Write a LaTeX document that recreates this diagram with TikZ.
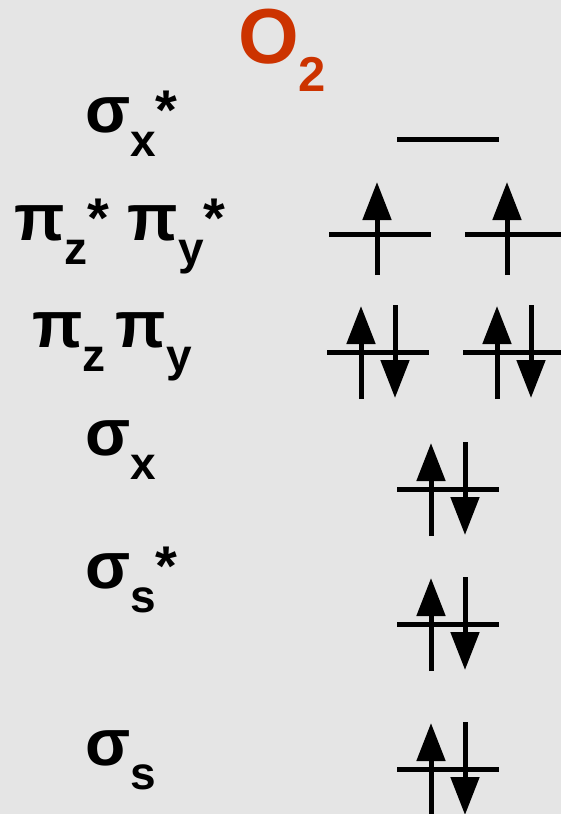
\documentclass[tikz,border=0pt]{standalone}
\usepackage{fontspec}
\setmainfont{Liberation Sans}
\usetikzlibrary{arrows.meta}

\definecolor{marble}{RGB}{229,229,229}
\definecolor{oxred}{RGB}{204,51,0}

\newcommand\orbfont{\fontsize{66}{70}\selectfont\bfseries}
\newcommand\subfont{\fontsize{46}{50}\selectfont\bfseries}
\newcommand\lo[1]{\raisebox{-24pt}{\subfont #1}}
\newcommand\hi{\raisebox{3pt}{\fontsize{56}{60}\selectfont\bfseries *}}

\begin{document}
\begin{tikzpicture}[
        x=1pt, y=-1pt,
        lbl/.style={anchor=base west, inner sep=0pt, font=\orbfont},
        lvl/.style={line width=5pt},
        spin/.style={line width=5pt, -{Triangle[length=38pt,width=28pt]}},
    ]

    %% ===== Background =====
    \fill[marble] (0,0) rectangle (561,814);
    \clip (0,0) rectangle (561,814);

    %% ===== Title =====
    \node[anchor=base west, inner sep=0pt, text=oxred, font=\fontsize{78}{80}\selectfont\bfseries] (title) at (238,63) {O\raisebox{-28pt}{\fontsize{49}{50}\selectfont 2}};

    %% ===== Orbital labels =====
    \node[lbl] (sxs) at (85,132) {σ\lo{x}\hi};
    \node[lbl] (pizys) at (14,240) {π\lo{z}\hi\hspace{18pt}π\lo{y}\hi};
    \node[lbl] (pizy) at (32,347) {π\lo{z}\hspace{10pt}π\lo{y}};
    \node[lbl] (sx) at (85,455) {σ\lo{x}};
    \node[lbl] (sss) at (85,588) {σ\lo{s}\hi};
    \node[lbl] (ss) at (85,765) {σ\lo{s}};

    %% ===== Energy levels =====
    \foreach \n/\x/\y in {sxs/448/139, pzs/380/234, pys/516/234, pz/378/352, py/514/352, sx/448/489, sss/448/624, ss/448/769}
        \coordinate (L\n) at (\x,\y);
    \foreach \n in {sxs, pzs, pys, pz, py, sx, sss, ss}
        \draw[lvl] ([xshift=-51pt]L\n) -- ([xshift=51pt]L\n);

    %% ===== Electrons =====
    \foreach \n/\dx in {pzs/-3, pys/-9}
        \draw[spin] ([xshift=\dx pt]L\n) ++(0,41) -- ++(0,-93);
    \foreach \n in {pz, py, sx, sss, ss} {
        \draw[spin] ([xshift=-17pt]L\n) ++(0,47) -- ++(0,-93);
        \draw[spin] ([xshift=17pt]L\n) ++(0,-47) -- ++(0,93);
    }

\end{tikzpicture}
\end{document}
